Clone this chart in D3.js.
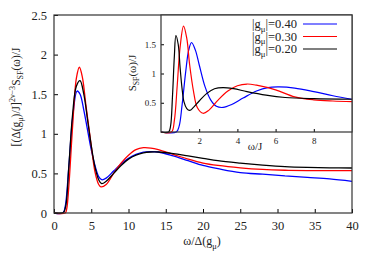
<!DOCTYPE html>
<html>
<head>
<meta charset="utf-8">
<script src="https://cdn.jsdelivr.net/npm/d3@7"></script>
<style>
  html, body { margin: 0; padding: 0; background: #fff; }
  svg { display: block; font-family: 'Liberation Serif', 'DejaVu Serif', serif; }
</style>
</head>
<body>
<div id="chart"></div>
<script>
// main panel: x = omega / Delta(g_mu), y = scaled S_SF
const mainXTicks = [0, 5, 10, 15, 20, 25, 30, 35, 40];
const mainYTicks = [0, 0.5, 1, 1.5, 2, 2.5];
const mainBlack = [[0, 0], [1, 0], [1.3, 0.01], [1.6, 0.1], [2, 0.6], [2.5, 1.25], [3, 1.6], [3.5, 1.67], [4, 1.5], [4.5, 1.18], [5, 0.85], [5.5, 0.58], [6, 0.42], [6.4, 0.37], [7, 0.4], [8, 0.5], [9, 0.6], [10, 0.68], [11, 0.73], [12, 0.76], [13, 0.77], [14, 0.77], [16, 0.75], [18, 0.72], [20, 0.69], [22, 0.66], [25, 0.63], [28, 0.605], [31, 0.585], [34, 0.575], [37, 0.57], [40, 0.568]];
const mainRed = [[0, 0], [1.5, 0], [1.7, 0.05], [2, 0.35], [2.5, 1.1], [3, 1.7], [3.4, 1.84], [3.8, 1.72], [4.3, 1.35], [5, 0.85], [5.5, 0.52], [6, 0.36], [6.3, 0.33], [7, 0.36], [8, 0.5], [9, 0.63], [10, 0.73], [11, 0.8], [12, 0.825], [13, 0.82], [14, 0.8], [16, 0.74], [18, 0.68], [20, 0.63], [22, 0.6], [25, 0.57], [28, 0.55], [31, 0.54], [34, 0.535], [37, 0.535], [40, 0.535]];
const mainBlue = [[0, 0], [1.2, 0], [1.5, 0.08], [2, 0.6], [2.5, 1.2], [3.1, 1.54], [3.5, 1.5], [4, 1.3], [4.5, 1.05], [5, 0.8], [5.5, 0.6], [6, 0.46], [6.4, 0.42], [7, 0.44], [8, 0.53], [9, 0.62], [10, 0.69], [11, 0.74], [12, 0.77], [13, 0.775], [14, 0.77], [16, 0.72], [18, 0.66], [20, 0.6], [22, 0.56], [25, 0.51], [28, 0.49], [31, 0.47], [34, 0.45], [37, 0.43], [40, 0.40]];

// inset: x = omega / J, y = S_SF
const insetXTicks = [2, 4, 6, 8];
const insetYTicks = [0.5, 1, 1.5];
const insetBlack = [[0, 0], [0.4, 0], [0.5, 0.1], [0.6, 0.6], [0.7, 1.3], [0.78, 1.65], [0.9, 1.5], [1.0, 1.1], [1.1, 0.75], [1.2, 0.52], [1.35, 0.4], [1.5, 0.37], [1.7, 0.42], [2, 0.53], [2.4, 0.66], [2.8, 0.74], [3.25, 0.76], [3.8, 0.74], [4.5, 0.69], [5.5, 0.63], [6.5, 0.59], [8, 0.57], [10, 0.56]];
const insetRed = [[0, 0], [0.55, 0], [0.7, 0.2], [0.85, 0.8], [1.0, 1.45], [1.18, 1.81], [1.35, 1.6], [1.5, 1.15], [1.7, 0.7], [1.9, 0.42], [2.2, 0.32], [2.5, 0.37], [3, 0.55], [3.5, 0.7], [4, 0.79], [4.5, 0.82], [5, 0.8], [6, 0.72], [7, 0.6], [8, 0.55], [9, 0.53], [10, 0.52]];
const insetBlue = [[0, 0], [0.8, 0], [0.95, 0.1], [1.1, 0.45], [1.3, 1.05], [1.45, 1.4], [1.6, 1.53], [1.8, 1.4], [2.0, 1.15], [2.3, 0.78], [2.6, 0.55], [2.9, 0.44], [3.25, 0.42], [3.7, 0.47], [4.3, 0.58], [5, 0.7], [5.6, 0.76], [6.2, 0.77], [7, 0.75], [8, 0.69], [9, 0.62], [10, 0.56]];

const legendLabels = ['0.40', '0.30', '0.20'];
const seriesColors = ['#0000ff', '#ff0000', '#000000'];

const width = 374, height = 262;
const svg = d3.select('#chart').append('svg')
  .attr('width', width)
  .attr('height', height);

// write text with sub / superscripts: parts = [[text, 'n'|'sub'|'sup'], ...]
const richText = (sel, parts, size) => {
  let shift = 0;
  parts.forEach(([t, kind]) => {
    const target = kind === 'sub' ? size * 0.3 : kind === 'sup' ? -size * 0.4 : 0;
    sel.append('tspan')
      .attr('dy', target - shift)
      .attr('font-size', kind === 'n' ? size : size * 0.7)
      .text(t);
    shift = target;
  });
  return sel;
};

// ---------- main panel ----------
const x = d3.scaleLinear().domain([0, 40]).range([54, 352]);
const y = d3.scaleLinear().domain([0, 2.5]).range([213, 15]);

const line = (sx, sy) => d3.line()
  .x(d => sx(d[0]))
  .y(d => sy(d[1]))
  .curve(d3.curveCatmullRom.alpha(0.5));

const gMain = svg.append('g');

gMain.append('g')
  .attr('fill', 'none')
  .attr('stroke-width', 1.3)
  .selectAll('path')
  .data([mainBlue, mainRed, mainBlack])
  .join('path')
  .attr('stroke', (d, i) => seriesColors[i])
  .attr('d', line(x, y));

gMain.append('g')
  .attr('transform', 'translate(0,213)')
  .call(d3.axisBottom(x).tickValues(mainXTicks).tickSize(-4).tickPadding(8))
  .call(g => g.select('.domain').remove())
  .call(g => g.selectAll('text').attr('font-size', 12.5).attr('font-family', 'Liberation Serif').attr('fill', '#222'));

gMain.append('g')
  .attr('transform', 'translate(54,0)')
  .call(d3.axisLeft(y).tickValues(mainYTicks).tickSize(-4).tickPadding(7).tickFormat(d3.format('')))
  .call(g => g.select('.domain').remove())
  .call(g => g.selectAll('text').attr('font-size', 12.5).attr('font-family', 'Liberation Serif').attr('fill', '#222'));

gMain.append('rect')
  .attr('x', 54).attr('y', 15)
  .attr('width', 298).attr('height', 198)
  .attr('fill', 'none')
  .attr('stroke', '#333')
  .attr('stroke-width', 1.2);

richText(gMain.append('text')
  .attr('x', 202).attr('y', 245)
  .attr('text-anchor', 'middle')
  .attr('fill', '#222'), [['ω/Δ(g', 'n'], ['μ', 'sub'], [')', 'n']], 12);

richText(gMain.append('text')
  .attr('transform', 'translate(20,97) rotate(-90)')
  .attr('text-anchor', 'middle')
  .attr('fill', '#222'),
  [['[(Δ(g', 'n'], ['μ', 'sub'], [')/J]', 'n'], ['2ν−3', 'sup'], ['S', 'n'], ['SF', 'sub'], ['(ω)/J', 'n']], 11.5);

// ---------- inset ----------
const xi = d3.scaleLinear().domain([0, 10]).range([161, 352]);
const yi = d3.scaleLinear().domain([0, 2]).range([132, 15]);

const gInset = svg.append('g');

gInset.append('rect')
  .attr('x', 161).attr('y', 15)
  .attr('width', 191).attr('height', 117)
  .attr('fill', '#fff');

gInset.append('g')
  .attr('fill', 'none')
  .attr('stroke-width', 1.2)
  .selectAll('path')
  .data([insetBlue, insetRed, insetBlack])
  .join('path')
  .attr('stroke', (d, i) => seriesColors[i])
  .attr('d', line(xi, yi));

gInset.append('g')
  .attr('transform', 'translate(0,132)')
  .call(d3.axisBottom(xi).tickValues(insetXTicks).tickSize(-3).tickPadding(6))
  .call(g => g.select('.domain').remove())
  .call(g => g.selectAll('text').attr('font-size', 9).attr('font-family', 'Liberation Serif').attr('fill', '#222'));

gInset.append('g')
  .attr('transform', 'translate(161,0)')
  .call(d3.axisLeft(yi).tickValues(insetYTicks).tickSize(-3).tickPadding(5).tickFormat(d3.format('')))
  .call(g => g.select('.domain').remove())
  .call(g => g.selectAll('text').attr('font-size', 9).attr('font-family', 'Liberation Serif').attr('fill', '#222'));

gInset.append('rect')
  .attr('x', 161).attr('y', 15)
  .attr('width', 191).attr('height', 117)
  .attr('fill', 'none')
  .attr('stroke', '#333')
  .attr('stroke-width', 1.2);

richText(gInset.append('text')
  .attr('x', 255).attr('y', 150)
  .attr('text-anchor', 'middle')
  .attr('fill', '#222'), [['ω/J', 'n']], 11);

richText(gInset.append('text')
  .attr('transform', 'translate(136,73) rotate(-90)')
  .attr('text-anchor', 'middle')
  .attr('fill', '#222'),
  [['S', 'n'], ['SF', 'sub'], ['(ω)/J', 'n']], 11);

// legend
const legend = gInset.append('g')
  .selectAll('g')
  .data(legendLabels)
  .join('g')
  .attr('transform', (d, i) => `translate(0,${24 + i * 12.5})`);

legend.append('line')
  .attr('x1', 303).attr('x2', 337)
  .attr('stroke', (d, i) => seriesColors[i])
  .attr('stroke-width', 1.2);

legend.each(function (d) {
  richText(d3.select(this).append('text')
    .attr('x', 297).attr('y', 4)
    .attr('text-anchor', 'end')
    .attr('fill', '#222'), [['|g', 'n'], ['μ', 'sub'], ['|=' + d, 'n']], 12.5);
});
</script>
</body>
</html>
